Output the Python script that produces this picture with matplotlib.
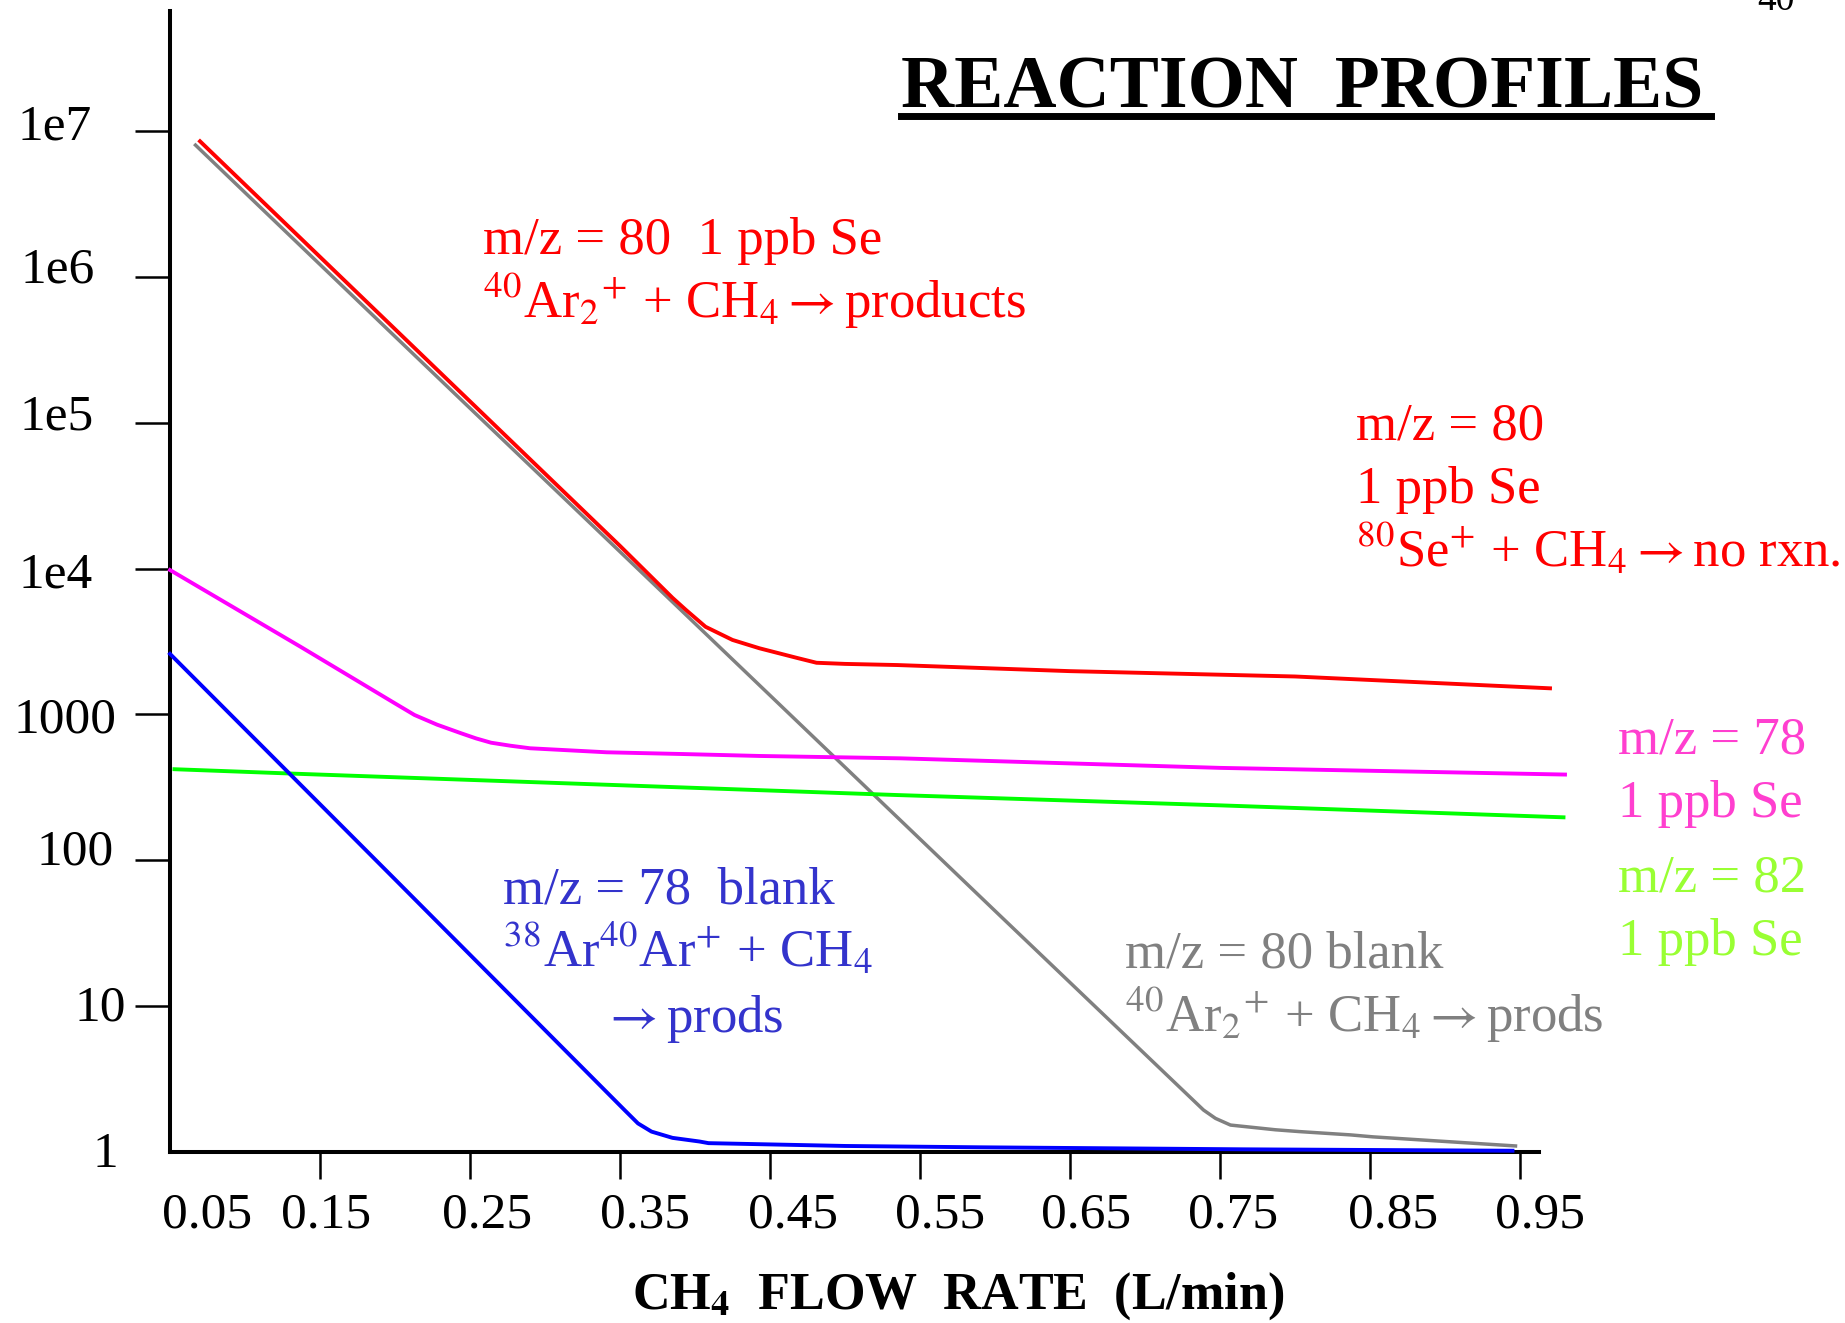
import matplotlib
matplotlib.use("Agg")
import matplotlib.pyplot as plt
from matplotlib.lines import Line2D

plt.rcParams['font.family'] = ['Liberation Serif', 'DejaVu Serif']
plt.rcParams['mathtext.fontset'] = 'stix'

# signal (counts/s) vs CH4 flow rate (L/min)
red_x = [0.07, 0.15, 0.25, 0.35, 0.385, 0.394, 0.407, 0.425, 0.443, 0.468, 0.481, 0.50, 0.535, 0.65, 0.80, 0.97]
red_y = [8.5e6, 1.37e6, 1.4e5, 1.43e4, 6300, 5200, 3990, 3240, 2840, 2440, 2260, 2220, 2180, 1980, 1820, 1510]

gray_x = [0.067, 0.2, 0.4, 0.6, 0.739, 0.747, 0.757, 0.787, 0.803, 0.837, 0.852, 0.947]
gray_y = [8.0e6, 3.9e5, 4.2e3, 45, 1.94, 1.70, 1.53, 1.42, 1.38, 1.31, 1.27, 1.10]

blue_x = [0.05, 0.2, 0.353, 0.362, 0.371, 0.385, 0.403, 0.409, 0.50, 0.59, 0.678, 0.767, 0.945]
blue_y = [2600, 74, 1.94, 1.57, 1.38, 1.25, 1.18, 1.15, 1.10, 1.077, 1.06, 1.043, 1.02]

mag_x = [0.05, 0.137, 0.20, 0.213, 0.228, 0.244, 0.254, 0.264, 0.277, 0.29, 0.341, 0.392, 0.443, 0.537, 0.75, 0.98]
mag_y = [9770, 2910, 1190, 991, 851, 743, 685, 640, 610, 586, 550, 535, 519, 500, 430, 387]

green_x = [0.053, 0.137, 0.535, 0.75, 0.979]
green_y = [421, 391, 280, 238, 197]

xtick_vals = [0.05, 0.15, 0.25, 0.35, 0.45, 0.55, 0.65, 0.75, 0.85, 0.95]
xtick_labels = ['0.05', '0.15', '0.25', '0.35', '0.45', '0.55', '0.65', '0.75', '0.85', '0.95']
ytick_vals = [1, 10, 100, 1000, 1e4, 1e5, 1e6, 1e7]
ytick_labels = ['1', '10', '100', '1000', '1e4', '1e5', '1e6', '1e7']

# label nudges in pixels (hand placed on the slide)
xlab_dx = [37, 6, 17, 25, 23, 20, 16, 13, 23, 20]
ylab_dx = [-52, -44, -56, -53, -77, -76, -75, -78]
ylab_dy = [-15, -14, -4, -18, -19, -7, -6, -9]

W, H = 1845, 1323
fig = plt.figure(figsize=(W / 100, H / 100), dpi=100)
ax = fig.add_axes([170 / W, (H - 1152) / H, 1425 / W, 1141 / H])


def fpos(px, py):
    return px / W, 1 - py / H


lw = 2.5
ax.plot(gray_x, gray_y, color='#808080', lw=lw, zorder=3, clip_on=False)
ax.plot(red_x, red_y, color='#ff0000', lw=lw + 0.3, zorder=4, clip_on=False)
ax.plot(mag_x, mag_y, color='#ff00ff', lw=lw + 0.3, zorder=4, clip_on=False)
ax.plot(green_x, green_y, color='#00ff00', lw=lw + 0.3, zorder=4, clip_on=False)
ax.plot(blue_x, blue_y, color='#0000ff', lw=lw + 0.3, zorder=4, clip_on=False)

ax.set_yscale('log')
ax.set_xlim(0.05, 1.0)
ax.set_ylim(1, 6.645e7)
ax.minorticks_off()

ax.spines['top'].set_visible(False)
ax.spines['right'].set_visible(False)
ax.spines['left'].set_linewidth(2.9)
ax.spines['bottom'].set_linewidth(2.9)
ax.spines['bottom'].set_bounds(0.05, 0.963)

ax.set_xticks(xtick_vals[1:])
ax.set_yticks(ytick_vals[1:])
ax.tick_params(axis='x', length=19.5, width=1.8, labelbottom=False)
ax.tick_params(axis='y', length=25, width=1.8, labelleft=False)

for val, lab, dx in zip(xtick_vals, xtick_labels, xlab_dx):
    ax.annotate(lab, xy=(val, 0), xycoords=('data', 'axes fraction'),
                xytext=(dx, -76), textcoords='offset pixels',
                ha='center', va='baseline', fontsize=37)

for val, lab, dx, dy in zip(ytick_vals, ytick_labels, ylab_dx, ylab_dy):
    ax.annotate(lab, xy=(0, val), xycoords=('axes fraction', 'data'),
                xytext=(dx, dy), textcoords='offset pixels',
                ha='right', va='baseline', fontsize=37)

# title with underline
fig.text(*fpos(901, 107), 'REACTION  PROFILES', fontsize=53, fontweight='bold',
         ha='left', va='baseline')
fig.add_artist(Line2D([901 / W, 1711 / W], [1 - 115.5 / H, 1 - 115.5 / H],
                      color='black', lw=5))
fig.text(*fpos(1757, 10), '40', fontsize=27, ha='left', va='baseline')

fig.text(*fpos(632, 1309), r'CH$_\mathbf{4}$  FLOW  RATE  (L/min)', fontsize=37.5,
         fontweight='bold', ha='left', va='baseline')

fs = 38
arrow = r'$\rightarrow$'
notes = [
    (483, 254, 'm/z = 80  1 ppb Se', '#ff0000'),
    (483, 318, r'$^{40}$Ar$_2$$^{+}$ + CH$_4$' + arrow + 'products', '#ff0000'),
    (1356, 440, 'm/z = 80', '#ff0000'),
    (1356, 503, '1 ppb Se', '#ff0000'),
    (1356, 567, r'$^{80}$Se$^{+}$ + CH$_4$' + arrow + 'no rxn.', '#ff0000'),
    (1618, 753, 'm/z = 78', '#ff3fcf'),
    (1618, 817, '1 ppb Se', '#ff3fcf'),
    (1618, 891, 'm/z = 82', '#99ff33'),
    (1618, 955, '1 ppb Se', '#99ff33'),
    (503, 904, 'm/z = 78  blank', '#3333cc'),
    (503, 967, r'$^{38}$Ar$^{40}$Ar$^{+}$ + CH$_4$', '#3333cc'),
    (602, 1032, arrow + 'prods', '#3333cc'),
    (1125, 968, 'm/z = 80 blank', '#808080'),
    (1125, 1032, r'$^{40}$Ar$_2$$^{+}$ + CH$_4$' + arrow + 'prods', '#808080'),
]
for px, py, s, c in notes:
    fig.text(*fpos(px, py), s, fontsize=fs, color=c, ha='left', va='baseline')

fig.savefig('out.png', dpi=100)
